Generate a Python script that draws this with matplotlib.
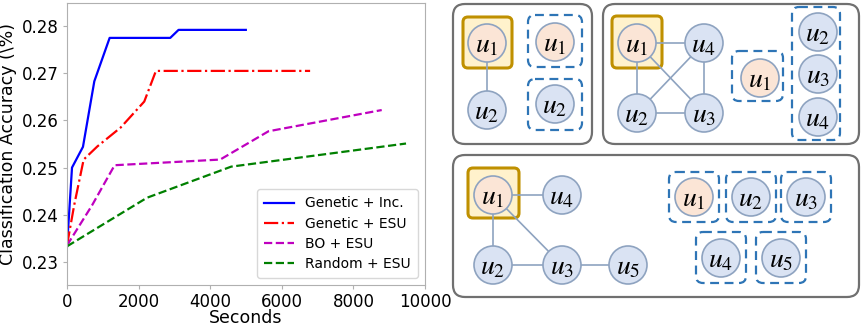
import matplotlib
matplotlib.use("Agg")
import matplotlib.pyplot as plt
from matplotlib.patches import Circle, FancyBboxPatch

# ---------------- chart data ----------------
gen_inc_x = [0, 140, 446, 763, 1191, 2884, 3116, 4995]
gen_inc_y = [0.2332, 0.2500, 0.2544, 0.2683, 0.2775, 0.2775, 0.2792, 0.2792]
gen_esu_x = [0, 200, 465, 850, 1500, 2158, 2484, 6791]
gen_esu_y = [0.2335, 0.2420, 0.2517, 0.2545, 0.2585, 0.2640, 0.2705, 0.2705]
bo_esu_x = [0, 700, 1330, 4279, 5628, 8791]
bo_esu_y = [0.2335, 0.2420, 0.2505, 0.2517, 0.2577, 0.2622]
rand_esu_x = [0, 2233, 4586, 9470]
rand_esu_y = [0.2333, 0.2436, 0.2502, 0.2551]
series_labels = ["Genetic + Inc.", "Genetic + ESU", "BO + ESU", "Random + ESU"]
x_ticks = [0, 2000, 4000, 6000, 8000, 10000]
y_ticks = [0.23, 0.24, 0.25, 0.26, 0.27, 0.28]

# ---------------- diagram data ----------------
# panels (x0, y0, x1, y1) in pixel coordinates of the figure
panels = [(453, 4, 592, 144), (603, 4, 859, 144), (453, 155, 859, 297)]
# nodes: (label, x, y, is_root)
nodes = [
    ("1", 487, 43, True), ("2", 487, 110, False),
    ("1", 555, 42, True), ("2", 555, 104, False),
    ("1", 637, 43, True), ("4", 704, 43, False), ("2", 637, 113, False), ("3", 704, 113, False),
    ("1", 760, 78, True), ("2", 818, 32, False), ("3", 818, 74, False), ("4", 818, 117, False),
    ("1", 493, 195, True), ("4", 562, 195, False), ("2", 493, 265, False), ("3", 562, 265, False),
    ("5", 628, 265, False),
    ("1", 694, 197, True), ("2", 751, 197, False), ("3", 806, 197, False),
    ("4", 721, 258, False), ("5", 781, 258, False),
]
edges = [
    (0, 1),
    (4, 5), (4, 6), (4, 7), (6, 5), (6, 7), (5, 7),
    (12, 13), (12, 14), (12, 15), (14, 15), (15, 16),
]
highlight_boxes = [(463, 17, 512, 68), (612, 16, 662, 68), (468, 168, 519, 218)]
dashed_boxes = [
    (528, 15, 582, 67), (528, 79, 582, 130),
    (732, 51, 783, 101), (792, 7, 840, 140),
    (669, 172, 719, 222), (726, 172, 776, 222), (781, 172, 831, 222),
    (696, 232, 746, 283), (756, 232, 806, 283),
]

W, H = 865, 325
fig = plt.figure(figsize=(W / 100, H / 100), dpi=100)

# ---------------- line chart ----------------
ax = fig.add_axes([67 / W, 1 - 285 / H, (425 - 67) / W, (285 - 3) / H])
ax.plot(gen_inc_x, gen_inc_y, color="blue", lw=1.6, ls="-", label=series_labels[0])
ax.plot(gen_esu_x, gen_esu_y, color="red", lw=1.6, ls="-.", label=series_labels[1])
ax.plot(bo_esu_x, bo_esu_y, color="m", lw=1.6, ls="--", label=series_labels[2])
ax.plot(rand_esu_x, rand_esu_y, color="green", lw=1.6, ls="--", label=series_labels[3])
ax.set_xlim(0, 10000)
ax.set_ylim(0.2251, 0.2849)
ax.set_xticks(x_ticks)
ax.set_yticks(y_ticks)
ax.set_yticklabels([f"{v:.2f}" for v in y_ticks])
ax.tick_params(labelsize=12, color="#b0b0b0", length=3, pad=3)
for s in ax.spines.values():
    s.set_color("#b0b0b0")
ax.set_xlabel("Seconds", fontsize=12.5, labelpad=-2)
ax.set_ylabel("Classification Accuracy (\\%)", fontsize=12.5, labelpad=3)
leg = ax.legend(loc="lower right", fontsize=10, handlelength=2.2, borderpad=0.5,
                labelspacing=0.45, framealpha=1, edgecolor="#d8d8d8")

# ---------------- diagram ----------------
dax = fig.add_axes([440 / W, 0, 425 / W, 1])
dax.set_xlim(440, 865)
dax.set_ylim(325, 0)
dax.axis("off")

for (x0, y0, x1, y1) in panels:
    dax.add_patch(FancyBboxPatch((x0 + 12, y0 + 12), x1 - x0 - 24, y1 - y0 - 24,
                                 boxstyle="round,pad=12", fc="white", ec="#707070", lw=1.6))

for (x0, y0, x1, y1) in highlight_boxes:
    dax.add_patch(FancyBboxPatch((x0 + 5, y0 + 5), x1 - x0 - 10, y1 - y0 - 10,
                                 boxstyle="round,pad=5", fc="#fff2cc", ec="#bf9000", lw=2.2, zorder=2))

for (x0, y0, x1, y1) in dashed_boxes:
    dax.add_patch(FancyBboxPatch((x0 + 7, y0 + 7), x1 - x0 - 14, y1 - y0 - 14,
                                 boxstyle="round,pad=7", fc="none", ec="#2e75b6", lw=1.6,
                                 ls=(0, (4, 2.5)), zorder=2))

for a, b in edges:
    dax.plot([nodes[a][1], nodes[b][1]], [nodes[a][2], nodes[b][2]],
             color="#8ea3c0", lw=1.2, zorder=3)

for lab, x, y, root in nodes:
    dax.add_patch(Circle((x, y), 19, fc="#fbe5d6" if root else "#dae3f3",
                         ec="#8ea3c0", lw=1.2, zorder=4))
    dax.text(x, y + 1, f"$u_{lab}$", ha="center", va="center", fontsize=20,
             math_fontfamily="stix", zorder=5)

fig.savefig("out.png", dpi=100)
